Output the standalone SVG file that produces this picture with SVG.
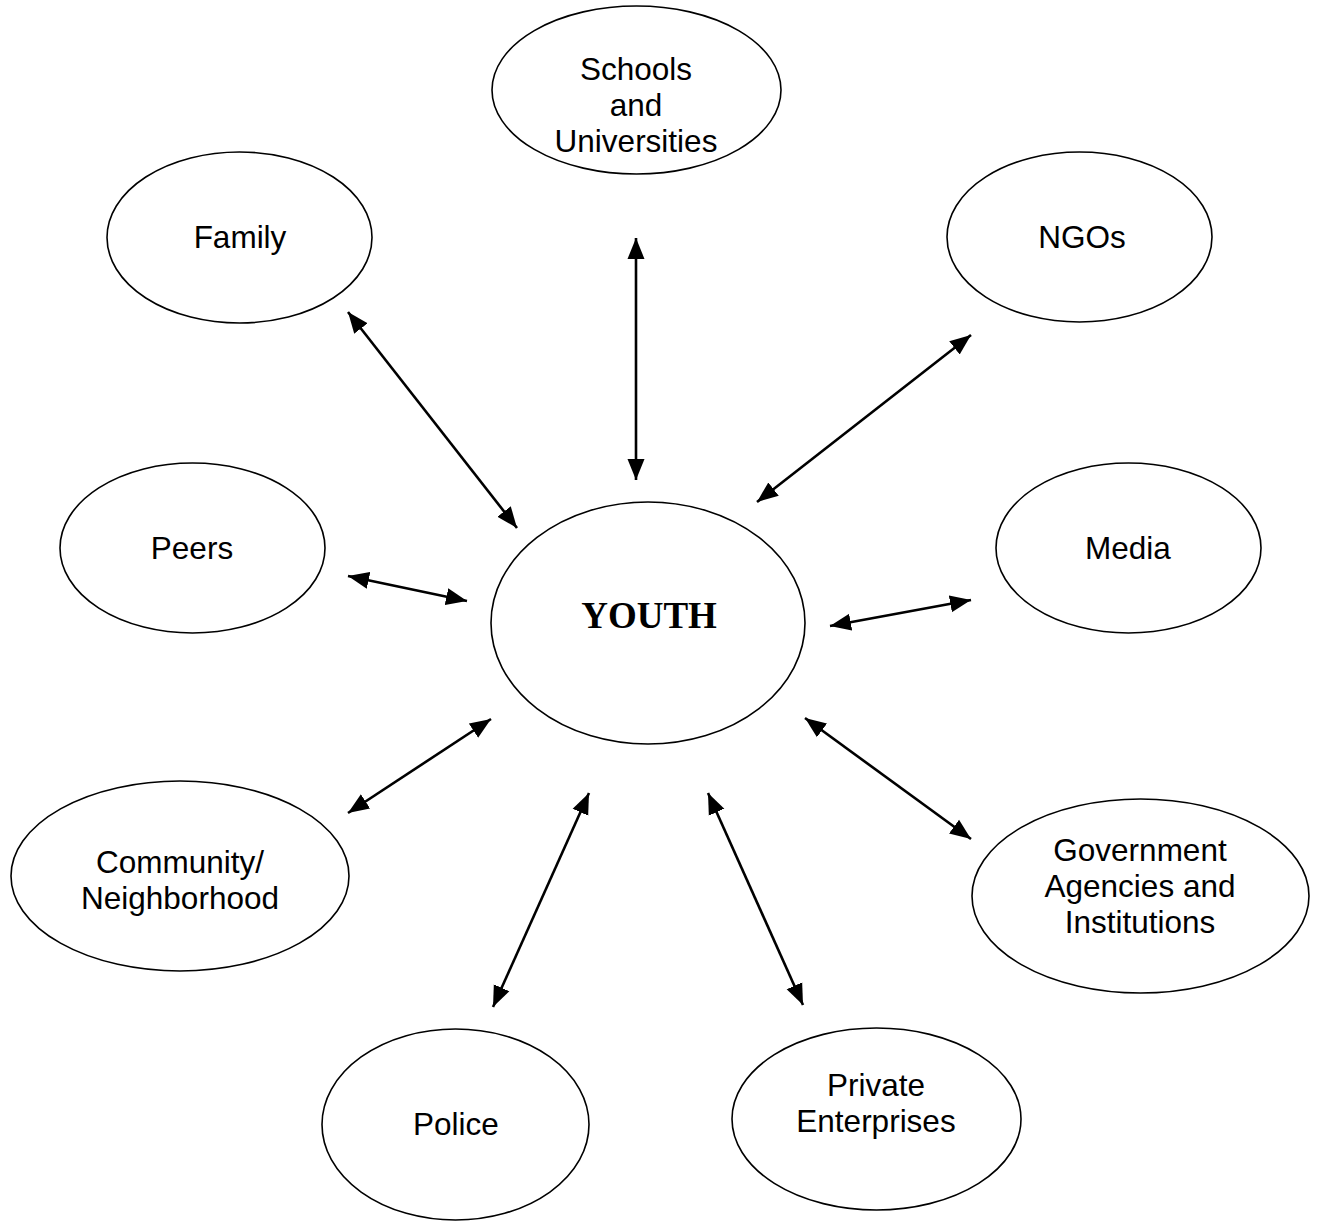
<svg xmlns="http://www.w3.org/2000/svg" width="1319" height="1221" viewBox="0 0 1319 1221">
  <style>
    .node { fill: #ffffff; stroke: #000000; stroke-width: 1.6; }
    .label { font-family: "Liberation Sans", Arial, sans-serif; font-size: 31.5px; fill: #000000; text-anchor: middle; }
    .hub { font-family: "Liberation Serif", "Times New Roman", serif; font-size: 37px; font-weight: bold; fill: #000000; text-anchor: middle; }
    .link { stroke: #000000; stroke-width: 2.6; fill: none; marker-start: url(#head); marker-end: url(#head); }
  </style>
  <defs>
    <marker id="head" markerUnits="userSpaceOnUse" markerWidth="22" markerHeight="18" viewBox="0 0 22 18" refX="21" refY="9" orient="auto-start-reverse">
      <path d="M0,0.5 L21,9 L0,17.5 Z" fill="#000000"/>
    </marker>
  </defs>
  <rect width="1319" height="1221" fill="#ffffff"/>

  <g id="connectors">
    <line class="link" x1="517" y1="528" x2="348" y2="312"/>
    <line class="link" x1="636" y1="480" x2="636" y2="238"/>
    <line class="link" x1="757" y1="502" x2="971" y2="335"/>
    <line class="link" x1="467" y1="601" x2="348" y2="576"/>
    <line class="link" x1="830" y1="626" x2="971" y2="600"/>
    <line class="link" x1="491" y1="719" x2="348" y2="813"/>
    <line class="link" x1="805" y1="718" x2="971" y2="839"/>
    <line class="link" x1="589" y1="793" x2="493" y2="1007"/>
    <line class="link" x1="708" y1="793" x2="803" y2="1005"/>
  </g>

  <g id="schools">
    <ellipse class="node" cx="636.5" cy="90" rx="144.5" ry="84"/>
    <text class="label" x="636" y="80">Schools</text>
    <text class="label" x="636" y="116">and</text>
    <text class="label" x="636" y="152">Universities</text>
  </g>
  <g id="family">
    <ellipse class="node" cx="239.5" cy="237.5" rx="132.5" ry="85.5"/>
    <text class="label" x="240" y="248">Family</text>
  </g>
  <g id="ngos">
    <ellipse class="node" cx="1079.5" cy="237" rx="132.5" ry="85"/>
    <text class="label" x="1082" y="248">NGOs</text>
  </g>
  <g id="peers">
    <ellipse class="node" cx="192.5" cy="548" rx="132.5" ry="85"/>
    <text class="label" x="192" y="559">Peers</text>
  </g>
  <g id="youth">
    <ellipse class="node" cx="648" cy="623" rx="157" ry="121"/>
    <text class="hub" x="649" y="628">YOUTH</text>
  </g>
  <g id="media">
    <ellipse class="node" cx="1128.5" cy="548" rx="132.5" ry="85"/>
    <text class="label" x="1128" y="559">Media</text>
  </g>
  <g id="community">
    <ellipse class="node" cx="180" cy="876" rx="169" ry="95"/>
    <text class="label" x="180" y="873">Community/</text>
    <text class="label" x="180" y="909">Neighborhood</text>
  </g>
  <g id="government">
    <ellipse class="node" cx="1140.5" cy="896" rx="168.5" ry="97"/>
    <text class="label" x="1140" y="861">Government</text>
    <text class="label" x="1140" y="897">Agencies and</text>
    <text class="label" x="1140" y="933">Institutions</text>
  </g>
  <g id="police">
    <ellipse class="node" cx="455.5" cy="1124.5" rx="133.5" ry="95.5"/>
    <text class="label" x="456" y="1135">Police</text>
  </g>
  <g id="private">
    <ellipse class="node" cx="876.5" cy="1119" rx="144.5" ry="91"/>
    <text class="label" x="876" y="1096">Private</text>
    <text class="label" x="876" y="1132">Enterprises</text>
  </g>
</svg>
